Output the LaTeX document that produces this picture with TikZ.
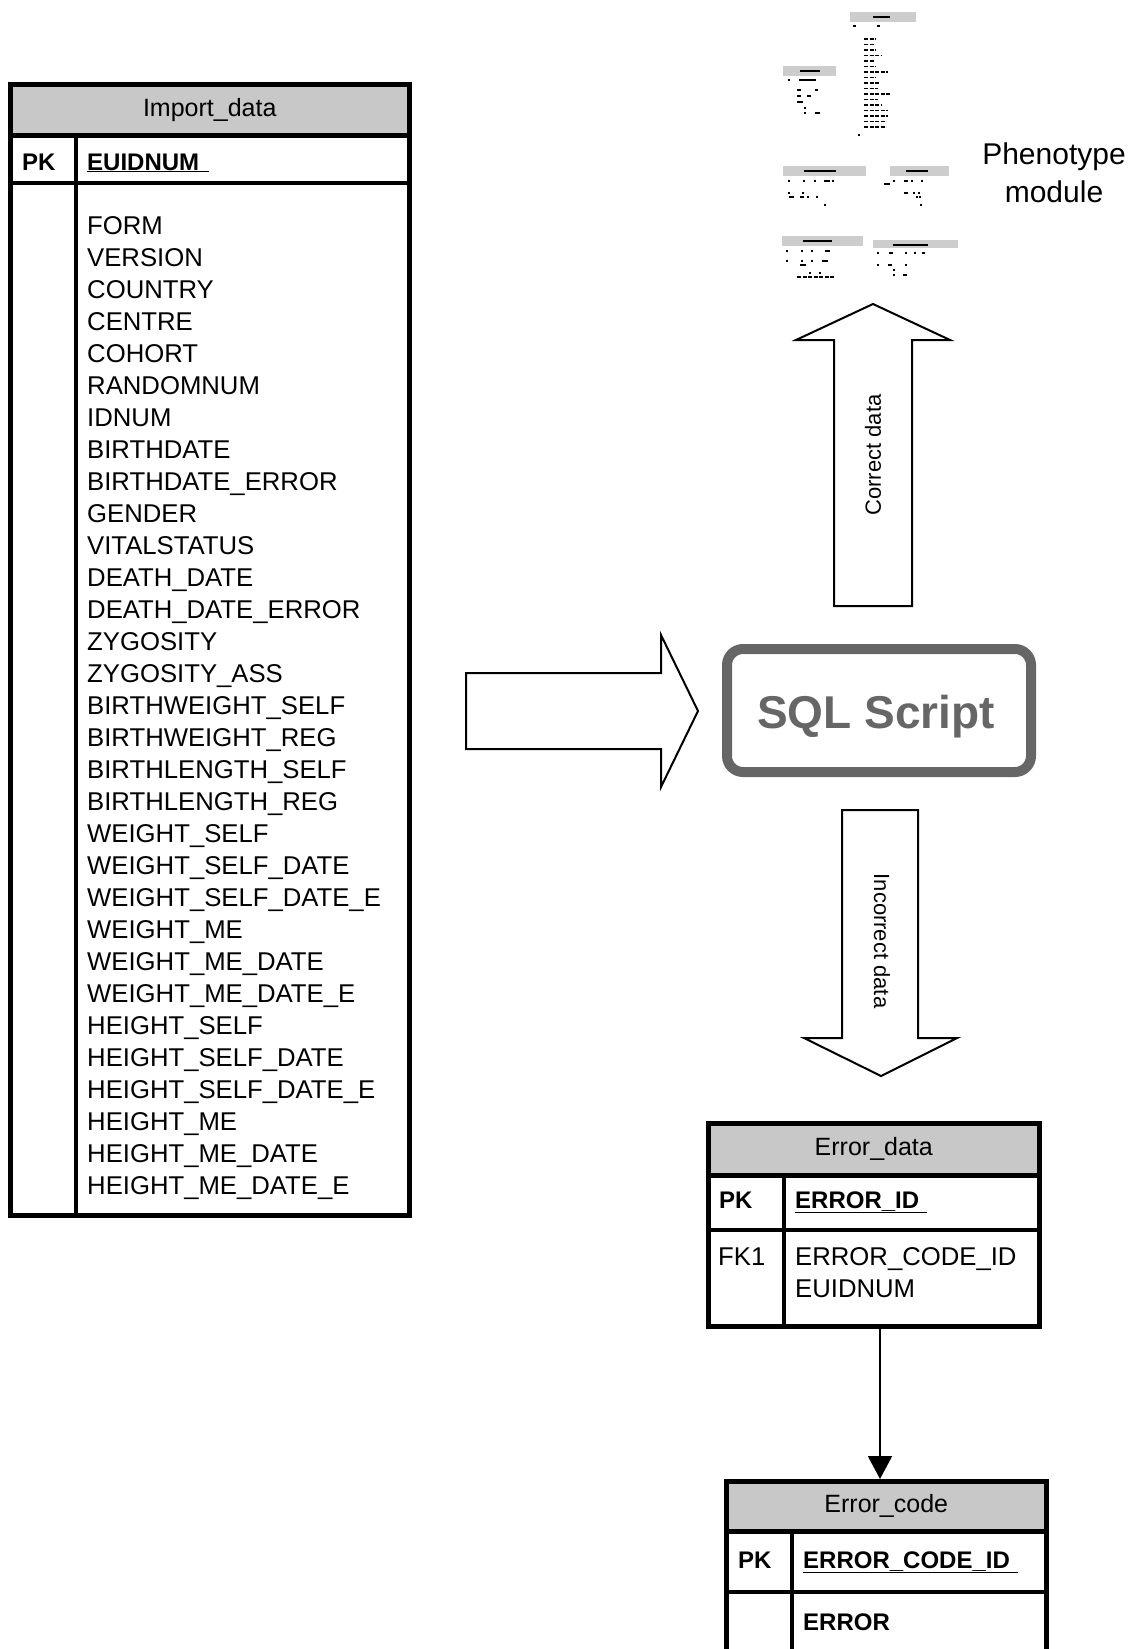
\documentclass[tikz,border=0pt]{standalone}
\usepackage{fontspec}
\setmainfont{Liberation Sans}
\usetikzlibrary{arrows.meta}
\definecolor{hdrgray}{RGB}{200,200,200}
\definecolor{sqlgray}{RGB}{102,102,102}
\definecolor{thumbgray}{RGB}{205,205,205}

\begin{document}
\begin{tikzpicture}[x=1pt,y=-1pt,
  tblline/.style={line width=4.5pt},
  hdrbox/.style={draw, line width=4.5pt, fill=hdrgray, inner sep=0pt, anchor=north west},
  bodybox/.style={draw, line width=4.5pt, inner sep=0pt, anchor=north west},
  fieldtxt/.style={anchor=base west, inner sep=0pt, font=\fontsize{25.7pt}{30pt}\selectfont},
  keytxt/.style={anchor=base west, inner sep=0pt, font=\fontsize{24pt}{30pt}\selectfont\bfseries},
  titletxt/.style={inner sep=0pt, font=\fontsize{25pt}{30pt}\selectfont},
  blockarrow/.style={draw=black, line width=2pt, fill=white, line join=miter},
  flowlbl/.style={inner sep=0pt, font=\fontsize{22pt}{26pt}\selectfont},
  thumbbar/.style={fill=thumbgray},
  thumbdash/.style={line width=1.6pt},
  thumbrow/.style={line width=1.4pt, dash pattern=on 4pt off 1.5pt},
]
\useasboundingbox (0,0) rectangle (1139,1649);
\clip (0,0) rectangle (1139,1649);

% ---------- Import_data table ----------
\node[hdrbox, minimum width=399pt, minimum height=51pt] (imphdr) at (8,82) {};
\node[titletxt] (imptitle) at (imphdr.center) {Import\_data};
\node[bodybox, minimum width=399pt, minimum height=1080pt] (impbody) at (8,133) {};
\draw[tblline] (8,183) -- (407,183);
\draw[tblline] (76,133) -- (76,1213);
\node[keytxt] (imppk) at (22,170) {PK};
\node[keytxt] (impkey) at (87,170) {\underline{EUIDNUM\hspace{10pt}}};
\foreach \fld [count=\i from 0] in {FORM,VERSION,COUNTRY,CENTRE,COHORT,RANDOMNUM,IDNUM,
  BIRTHDATE,BIRTHDATE\_ERROR,GENDER,VITALSTATUS,DEATH\_DATE,DEATH\_DATE\_ERROR,
  ZYGOSITY,ZYGOSITY\_ASS,BIRTHWEIGHT\_SELF,BIRTHWEIGHT\_REG,BIRTHLENGTH\_SELF,
  BIRTHLENGTH\_REG,WEIGHT\_SELF,WEIGHT\_SELF\_DATE,WEIGHT\_SELF\_DATE\_E,WEIGHT\_ME,
  WEIGHT\_ME\_DATE,WEIGHT\_ME\_DATE\_E,HEIGHT\_SELF,HEIGHT\_SELF\_DATE,
  HEIGHT\_SELF\_DATE\_E,HEIGHT\_ME,HEIGHT\_ME\_DATE,HEIGHT\_ME\_DATE\_E}
  \node[fieldtxt] (impf\i) at (87,{234+32.03*\i}) {\fld};

% ---------- block arrow into the script ----------
\draw[blockarrow] (466,673) -- (661,673) -- (661,635) -- (698,711) -- (661,787)
  -- (661,749) -- (466,749) -- cycle;

% ---------- SQL script box ----------
\node[draw=sqlgray, line width=10pt, rounded corners=16pt, minimum width=304pt,
  minimum height=123pt, inner sep=0pt] (sql) at (879,710.5) {};
\node[text=sqlgray, inner sep=0pt, font=\fontsize{46pt}{50pt}\selectfont\bfseries]
  (sqltxt) at (876,717) {SQL Script};

% ---------- block arrow: correct data ----------
\draw[blockarrow] (834,606) -- (834,340) -- (796,340) -- (873,304) -- (950,340)
  -- (912,340) -- (912,606) -- cycle;
\node[flowlbl, rotate=90] (okl) at (873,455) {Correct data};

% ---------- block arrow: incorrect data ----------
\draw[blockarrow] (842,810) -- (842,1038) -- (804,1038) -- (881,1076) -- (957,1038)
  -- (918,1038) -- (918,810) -- cycle;
\node[flowlbl, rotate=-90] (badl) at (882,941) {Incorrect data};

% ---------- Error_data table ----------
\node[hdrbox, minimum width=331pt, minimum height=52pt] (errhdr) at (706,1121) {};
\node[titletxt] (errtitle) at (errhdr.center) {Error\_data};
\node[bodybox, minimum width=331pt, minimum height=151pt] (errbody) at (706,1173) {};
\draw[tblline] (706,1230) -- (1037,1230);
\draw[tblline] (784,1173) -- (784,1324);
\node[keytxt] (errpk) at (719,1208) {PK};
\node[keytxt] (errkey) at (795,1208) {\underline{ERROR\_ID\hspace{8pt}}};
\node[fieldtxt] (errfk) at (718,1265) {FK1};
\node[fieldtxt] (errf0) at (795,1265) {ERROR\_CODE\_ID};
\node[fieldtxt] (errf1) at (795,1297) {EUIDNUM};

% ---------- Error_code table ----------
\node[hdrbox, minimum width=320pt, minimum height=50pt] (codehdr) at (724,1479) {};
\node[titletxt] (codetitle) at (codehdr.center) {Error\_code};
\node[bodybox, minimum width=320pt, minimum height=140pt] (codebody) at (724,1529) {};
\draw[tblline] (724,1592) -- (1044,1592);
\draw[tblline] (792,1529) -- (792,1669);
\node[keytxt] (codepk) at (738,1568) {PK};
\node[keytxt] (codekey) at (803,1568) {\underline{ERROR\_CODE\_ID\hspace{8pt}}};
\node[keytxt] (codef0) at (803,1630) {ERROR};

% ---------- foreign key link ----------
\coordinate (fkx) at (880,0);
\draw[line width=2pt, -{Triangle[width=24pt,length=23pt]}]
  (errbody.south -| fkx) -- (codehdr.north -| fkx);

% ---------- Phenotype module thumbnail ----------
\node[inner sep=0pt, align=center, font=\fontsize{30pt}{38pt}\selectfont]
  (pheno) at (1054,173) {Phenotype\\module};

% large table
\fill[thumbbar] (850,12) rectangle (916,22);
\draw[thumbdash] (873,17) -- (890,17);
\foreach \xa/\xb/\yy in {853/856/26,877/880/26,858/860/135}
  \draw[thumbdash] (\xa,\yy) -- (\xb,\yy);
\foreach \len [count=\k from 0] in {12,10,12,18,10,12,24,12,16,14,26,14,18,24,24,22,22}
  \draw[thumbrow] (864,{39+5.5*\k}) -- ({864+\len},{39+5.5*\k});
% small table, left
\fill[thumbbar] (783,66) rectangle (836,76);
\draw[thumbdash] (800,71) -- (820,71);
\foreach \xa/\xb/\yy in {788/790/80,799/816/80,797/801/90,815/818/90,797/801/96,
  807/811/96,797/803/102,804/806/108,804/806/113,815/820/113}
  \draw[thumbdash] (\xa,\yy) -- (\xb,\yy);
% middle row
\fill[thumbbar] (783,166) rectangle (866,176);
\draw[thumbdash] (804,171) -- (836,171);
\foreach \xa/\xb/\yy in {788/790/181,803/805/181,814/816/181,824/830/181,832/834/181,
  788/790/193,802/804/193,789/794/197,800/804/197,807/809/197,816/818/197,824/826/205}
  \draw[thumbdash] (\xa,\yy) -- (\xb,\yy);
\fill[thumbbar] (890,166) rectangle (949,176);
\draw[thumbdash] (906,171) -- (928,171);
\foreach \xa/\xb/\yy in {893/895/181,904/908/181,911/913/181,921/923/181,884/890/184,
  904/908/193,913/915/193,918/920/193,916/918/197,919/921/197,920/922/205}
  \draw[thumbdash] (\xa,\yy) -- (\xb,\yy);
% bottom row
\fill[thumbbar] (782,236) rectangle (863,246);
\draw[thumbdash] (803,241) -- (832,241);
\foreach \xa/\xb/\yy in {786/788/251,801/803/251,811/813/251,825/830/251,
  786/788/261,801/803/261,811/813/261,822/828/261,800/806/265,809/811/273,
  819/821/273}
  \draw[thumbdash] (\xa,\yy) -- (\xb,\yy);
\draw[thumbrow] (797,277) -- (834,277);
\fill[thumbbar] (873,240) rectangle (958,248);
\draw[thumbdash] (893,245) -- (928,245);
\foreach \xa/\xb/\yy in {877/879/253,889/893/253,905/907/253,914/916/253,922/925/253,
  877/879/265,888/892/265,905/907/265,893/895/270,893/895/275,903/907/275}
  \draw[thumbdash] (\xa,\yy) -- (\xb,\yy);
\end{tikzpicture}
\end{document}
